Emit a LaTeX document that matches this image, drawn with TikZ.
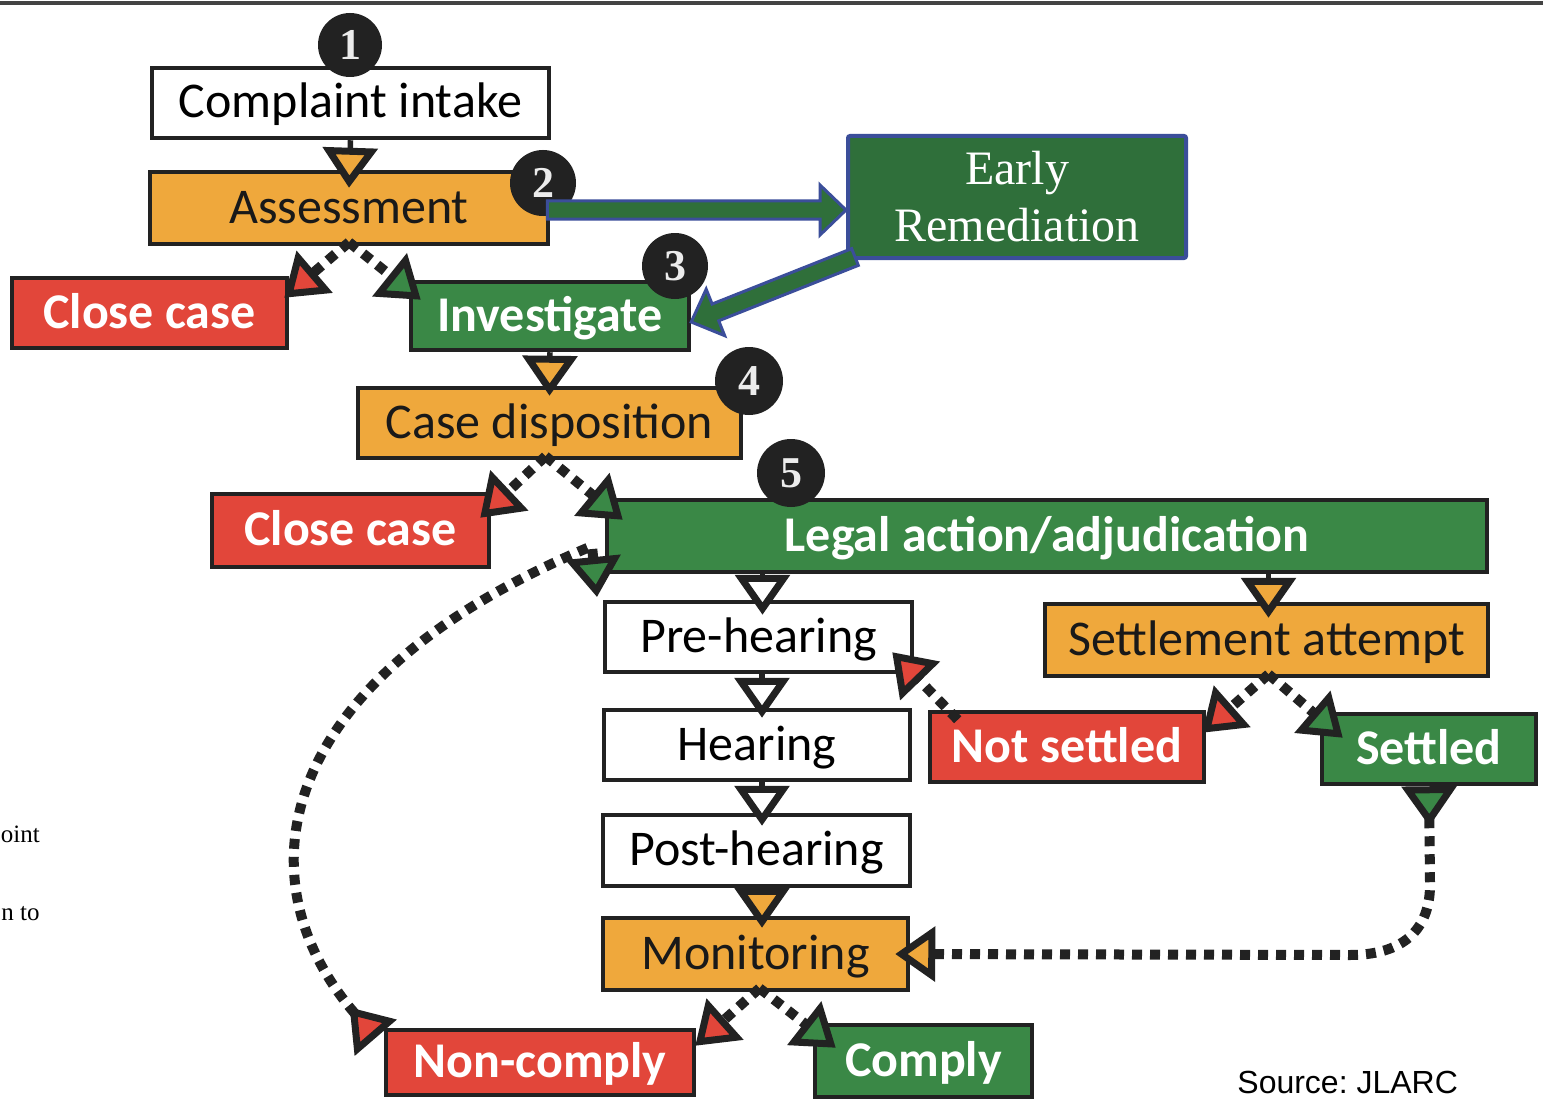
\documentclass[tikz,border=0pt]{standalone}
\usepackage{fontspec}
\usetikzlibrary{arrows.meta,calc}
\newfontfamily\boxfont{Carlito}
\newfontfamily\numfont{Liberation Serif}
\newfontfamily\srcfont{Liberation Sans}
\newfontfamily\docfont{Liberation Serif}
\definecolor{orangeC}{RGB}{239,168,60}
\definecolor{redC}{RGB}{226,70,58}
\definecolor{greenC}{RGB}{58,136,70}
\definecolor{earlyC}{RGB}{47,111,58}
\definecolor{blueC}{RGB}{59,78,154}
\definecolor{darkC}{RGB}{34,34,34}
\tikzset{
  box/.style={draw=darkC, line width=2.25pt, inner sep=0pt, text height=18pt, text depth=3pt,
    font=\boxfont\fontsize{25}{30}\selectfont},
  wbox/.style={box, fill=white, text=black},
  obox/.style={box, fill=orangeC, text=black!90},
  rbox/.style={box, fill=redC, text=white, font=\boxfont\bfseries\fontsize{25}{30}\selectfont},
  gbox/.style={box, fill=greenC, text=white, font=\boxfont\bfseries\fontsize{25}{30}\selectfont},
  badge/.style={circle, fill=darkC, minimum size=32pt, inner sep=0pt, text=gray!15,
    font=\numfont\bfseries\fontsize{22}{22}\selectfont},
  solidarrow/.style={draw=darkC, line width=2.75pt},
  dotarrow/.style={draw=darkC, line width=5pt, dash pattern=on 5pt off 4pt},
  endtip/.style={-{Triangle[length=20pt,width=27pt,line width=3.5pt,fill=#1]}},
}
\newcommand\blockarr[2]{%
  \coordinate (ba-s) at #1;
  \coordinate (ba-e) at #2;
  \coordinate (ba-h) at ($(ba-e)!13pt!(ba-s)$);
  \filldraw[fill=earlyC, draw=blueC, line width=1.5pt, line join=miter]
    ($(ba-s)!4.5pt!90:(ba-e)$) -- ($(ba-h)!4.5pt!90:(ba-e)$) -- ($(ba-h)!12.5pt!90:(ba-e)$)
    -- (ba-e) -- ($(ba-h)!12.5pt!-90:(ba-e)$) -- ($(ba-h)!4.5pt!-90:(ba-e)$)
    -- ($(ba-s)!4.5pt!-90:(ba-e)$) -- cycle;
}
\frenchspacing
\begin{document}
\begin{tikzpicture}[x=0.5pt,y=-0.5pt]
\useasboundingbox (0,0) rectangle (1543,1102);
\fill[white] (0,0) rectangle (1543,1102);
\draw[line width=2pt, darkC!85] (0,3) -- (1543,3);

% boxes
\node[wbox, minimum width=198.5pt, minimum height=35pt] (intake) at (350.5,103) {Complaint intake};
\node[obox, minimum width=199pt, minimum height=36pt] (assess) at (349,208) {Assessment};
\node[rbox, minimum width=137.5pt, minimum height=35pt] (close1) at (149.5,313) {Close case};
\node[gbox, minimum width=139pt, minimum height=34pt] (invest) at (550,316) {Investigate};
\node[obox, minimum width=191.5pt, minimum height=35pt] (casedisp) at (549.5,423) {Case disposition};
\node[rbox, minimum width=138.5pt, minimum height=36.5pt] (close2) at (350.5,530.5) {Close case};
\node[gbox, minimum width=440pt, minimum height=36pt] (legal) at (1047,536) {Legal action/adjudication};
\node[wbox, minimum width=153.5pt, minimum height=35pt] (prehear) at (758.5,637) {Pre-hearing};
\node[obox, minimum width=221.5pt, minimum height=36pt] (settle) at (1266.5,640) {Settlement attempt};
\node[wbox, minimum width=153pt, minimum height=35pt] (hear) at (757,745) {Hearing};
\node[rbox, minimum width=137pt, minimum height=35pt] (notset) at (1067,747) {Not settled};
\node[gbox, minimum width=107pt, minimum height=35pt] (settled) at (1429,749) {Settled};
\node[wbox, minimum width=153.5pt, minimum height=35.5pt] (post) at (756.5,850.5) {Post-hearing};
\node[obox, minimum width=152.5pt, minimum height=36pt] (monit) at (755.5,954) {Monitoring};
\node[rbox, minimum width=154pt, minimum height=32.5pt] (noncomp) at (540,1062.5) {Non-comply};
\node[gbox, minimum width=108.5pt, minimum height=36pt] (comply) at (923.5,1061) {Comply};
\node[draw=blueC, line width=2pt, fill=earlyC, rounded corners=1pt, minimum width=169pt,
  minimum height=61pt, text=white, align=center, inner sep=0pt,
  font=\docfont\fontsize{24}{28.5}\selectfont] (early) at (1017,197) {Early\\Remediation};

% solid connectors
\draw[solidarrow, endtip=orangeC] (intake.south) -- ([yshift=-9pt]assess.north);
\draw[solidarrow, endtip=orangeC] (invest.south) -- ([yshift=-5pt]casedisp.north);
\draw[solidarrow, endtip=white] ([xshift=2pt]prehear.north |- legal.south) -- ([xshift=2pt,yshift=-7.5pt]prehear.north);
\draw[solidarrow, endtip=orangeC] ([xshift=1pt]settle.north |- legal.south) -- ([xshift=1pt,yshift=-8pt]settle.north);
\draw[solidarrow, endtip=white] ([xshift=1.75pt]prehear.south) -- ([xshift=2.5pt,yshift=-5pt]hear.north);
\draw[solidarrow, endtip=white] ([xshift=2.5pt]hear.south) -- ([xshift=2.75pt,yshift=-6.5pt]post.north);
\draw[solidarrow, endtip=orangeC] ([xshift=2.75pt]post.south) -- ([xshift=3.25pt,yshift=-6pt]monit.north);

% dotted connectors
\draw[dotarrow, endtip=redC] ([yshift=2pt]assess.south) -- ([xshift=-2.5pt,yshift=-11pt]close1.north east);
\draw[dotarrow, endtip=greenC] ([yshift=2pt]assess.south) -- ([xshift=6pt,yshift=-10pt]invest.north west);
\draw[dotarrow, endtip=redC] ([xshift=-2pt,yshift=2pt]casedisp.south) -- ([xshift=-5.5pt,yshift=-13pt]close2.north east);
\draw[dotarrow, endtip=greenC] ([xshift=-2pt,yshift=2pt]casedisp.south) -- ([xshift=9pt,yshift=-11pt]legal.north west);
\draw[dotarrow, endtip=redC] ([xshift=1pt,yshift=2pt]settle.south) -- ([xshift=-2pt,yshift=-11.5pt]notset.north east);
\draw[dotarrow, endtip=greenC] ([xshift=1pt,yshift=2pt]settle.south) -- ([xshift=11.5pt,yshift=-13pt]settled.north west);
\draw[dotarrow, endtip=redC] ([xshift=15pt,yshift=-5pt]notset.north west) -- ([xshift=-11pt,yshift=11pt]prehear.south east);
\draw[dotarrow, endtip=redC] ([xshift=2pt,yshift=2pt]monit.south) -- ([xshift=-0.5pt,yshift=-9pt]noncomp.north east);
\draw[dotarrow, endtip=greenC] ([xshift=2pt,yshift=2pt]monit.south) -- ([xshift=11.5pt,yshift=-12.5pt]comply.north west);
\coordinate (nbend) at (1350,955);
\draw[dotarrow, {Triangle[reversed,length=20pt,width=27pt,line width=3.5pt,fill=greenC]}-{Triangle[length=20pt,width=27pt,line width=3.5pt,fill=orangeC]}]
  (settled.south) -- ++(1,96) .. controls +(1,50) and +(50,0) .. (nbend) -- ([xshift=-7.5pt]monit.east);
\coordinate (lbend) at (592,546);
\draw[dotarrow, {Triangle[reversed,length=20pt,width=27pt,line width=3.5pt,fill=redC]}-{Triangle[length=20pt,width=27pt,line width=3.5pt,fill=greenC]}]
  ([xshift=-4pt,yshift=-5pt]noncomp.north west) .. controls (240,880) and (270,680) .. (lbend) -- (597,597);

% badges
\node[badge] (b1) at (350,45) {1};
\node[badge, minimum size=33pt] (b2) at (543,183) {2};
\node[badge, minimum size=33pt] (b3) at (675,266) {3};
\node[badge, minimum size=34pt] (b4) at (749,381) {4};
\node[badge, minimum size=34pt] (b5) at (791,473) {5};

% Early remediation block arrows
\blockarr{([xshift=-1.5pt,yshift=-1pt]assess.east)}{([yshift=-6.5pt]early.west)}
\blockarr{([xshift=4.5pt,yshift=1.5pt]early.south west)}{([yshift=-3pt]invest.east)}

% texts
\node[font=\srcfont\fontsize{16}{19}\selectfont, anchor=base west, inner sep=0pt] (src) at (1237,1093) {Source: JLARC};
\node[font=\docfont\fontsize{12.5}{15}\selectfont, anchor=base west, inner sep=0pt] (pt1) at (0.5,842) {oint};
\node[font=\docfont\fontsize{12.5}{15}\selectfont, anchor=base west, inner sep=0pt] (pt2) at (1,920) {n to};
\end{tikzpicture}
\end{document}
